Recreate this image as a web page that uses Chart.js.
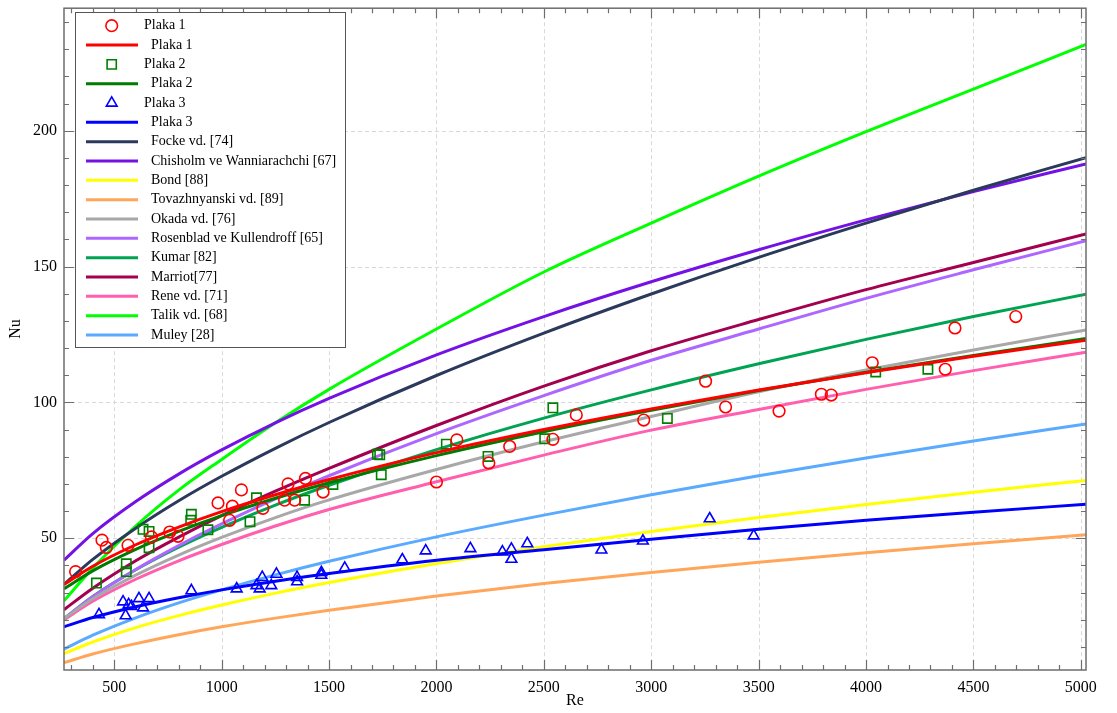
<!DOCTYPE html>
<html>
<head>
<meta charset="utf-8">
<script src="https://cdn.jsdelivr.net/npm/chart.js@4.4.1/dist/chart.umd.min.js"></script>
<style>
html,body{margin:0;padding:0;background:#fff;}
#wrap{width:1117px;height:713px;position:relative;}
</style>
</head>
<body>
<div id="wrap"><canvas id="c" width="1117" height="713"></canvas></div>
<script>
// ---- axis ticks ----
const xTickValues = [500, 1000, 1500, 2000, 2500, 3000, 3500, 4000, 4500, 5000];
const yTickValues = [50, 100, 150, 200];
const xMinorStep = 100;
const yMinorStep = 10;

// ---- fitted / correlation curves (Re sample positions) ----
const reCurve   = [266, 400, 600, 800, 1000, 1250, 1500, 2000, 2500, 3000, 3500, 4000, 4500, 5024];
const plaka1Fit = [33.0, 39.7, 47.6, 54.1, 59.8, 66.0, 71.6, 81.5, 90.0, 97.6, 104.6, 110.9, 117.0, 122.9];
const plaka2Fit = [31.4, 38.0, 45.9, 52.5, 58.3, 64.7, 70.4, 80.4, 89.2, 97.1, 104.4, 111.1, 117.3, 123.5];
const plaka3Fit = [17.4, 20.8, 24.8, 28.1, 31.0, 34.2, 37.0, 41.9, 45.8, 49.6, 53.3, 56.6, 59.6, 62.5];
const focke     = [33.0, 42.2, 53.7, 63.8, 72.8, 83.1, 92.6, 109.9, 125.5, 139.9, 153.4, 166.0, 178.1, 190.1];
const chisholm  = [41.9, 51.7, 63.5, 73.6, 82.5, 92.5, 101.5, 117.5, 131.6, 144.4, 156.2, 167.2, 177.6, 187.8];
const bond      = [7.5, 11.8, 17.1, 21.5, 25.4, 29.8, 33.7, 40.7, 46.9, 52.5, 57.6, 62.4, 66.9, 71.3];
const tovaz     = [4.2, 7.4, 11.2, 14.5, 17.4, 20.6, 23.5, 28.7, 33.3, 37.4, 41.2, 44.7, 48.0, 51.3];
const okada     = [20.4, 27.7, 36.4, 43.8, 50.3, 57.6, 64.1, 75.3, 85.5, 94.8, 103.9, 111.9, 119.3, 126.7];
const rosenblad = [20.4, 28.5, 38.5, 47.3, 55.3, 64.5, 73.0, 88.5, 102.5, 115.5, 127.0, 138.3, 148.8, 159.5];
const kumar     = [20.4, 28.6, 38.4, 46.7, 54.0, 62.2, 69.5, 82.6, 94.2, 104.6, 114.2, 123.2, 131.6, 139.8];
const marriot   = [23.7, 31.6, 41.7, 50.4, 58.3, 67.3, 75.7, 91.5, 106.0, 119.0, 130.5, 141.5, 151.5, 162.0];
const rene      = [20.0, 26.8, 34.9, 41.7, 47.7, 54.5, 60.6, 70.8, 80.6, 89.8, 97.4, 104.8, 111.7, 118.5];
const talik     = [27.0, 39.0, 54.5, 67.7, 79.0, 92.5, 104.8, 127.0, 148.0, 166.0, 183.3, 199.7, 215.3, 231.8];
const muley     = [9.2, 14.3, 20.7, 26.2, 31.0, 36.5, 41.5, 50.5, 58.5, 66.0, 73.0, 79.5, 85.8, 92.1];

// ---- measured points ----
const plaka1Re = [320, 443, 463, 564, 673, 758, 797, 983, 1037, 1050, 1092, 1192, 1293, 1309, 1340, 1390, 1472, 2000, 2095, 2244, 2341, 2542, 2651, 2965, 3253, 3346, 3595, 3792, 3838, 4029, 4369, 4414, 4697];
const plaka1Nu = [37.7, 49.3, 46.6, 47.4, 50.5, 52.3, 50.7, 63.0, 56.6, 61.8, 67.8, 61.0, 64.0, 70.0, 64.0, 72.0, 67.0, 70.7, 86.2, 77.7, 83.8, 86.4, 95.4, 93.5, 107.8, 98.3, 96.8, 103.0, 102.7, 114.6, 112.2, 127.4, 131.6];
const plaka2Re = [417, 556, 556, 634, 662, 662, 859, 856, 936, 1132, 1162, 1386, 1518, 1725, 1736, 1743, 2046, 2240, 2504, 2542, 3075, 4045, 4288];
const plaka2Nu = [33.5, 40.6, 37.7, 53.3, 52.5, 46.5, 58.8, 56.6, 53.1, 56.1, 64.9, 64.0, 69.8, 80.9, 80.7, 73.4, 84.6, 80.1, 86.6, 98.0, 94.1, 111.2, 112.2];
const plaka3Re = [429, 541, 553, 567, 580, 615, 634, 662, 859, 1070, 1162, 1177, 1189, 1231, 1255, 1351, 1351, 1464, 1464, 1573, 1841, 1950, 2158, 2307, 2349, 2349, 2423, 2768, 2961, 3272, 3477];
const plaka3Nu = [21.9, 26.6, 21.5, 25.6, 24.9, 27.8, 24.4, 27.8, 30.7, 31.4, 32.6, 31.4, 35.6, 32.6, 36.8, 35.6, 34.0, 37.4, 36.4, 39.0, 42.1, 45.4, 46.2, 45.0, 46.0, 42.3, 48.0, 45.7, 49.0, 57.2, 50.9];

const FONT = '"Liberation Serif", "Times New Roman", serif';
const pts = (xs, ys) => xs.map((v, i) => ({x: v, y: ys[i]}));

function markerSet(label, xs, ys, color, style, r) {
  return {label, data: pts(xs, ys), showLine: false, borderColor: color, backgroundColor: 'rgba(0,0,0,0)',
          pointStyle: style, pointRadius: r, pointHoverRadius: r, pointBorderWidth: 1.6, pointBorderColor: color,
          pointBackgroundColor: 'rgba(0,0,0,0)'};
}
function curveSet(label, ys, color) {
  return {label, data: pts(reCurve, ys), showLine: true, borderColor: color, backgroundColor: color,
          borderWidth: 3, pointRadius: 0, pointHoverRadius: 0, cubicInterpolationMode: 'monotone', fill: false};
}

const datasets = [
  markerSet('Plaka 1', plaka1Re, plaka1Nu, '#ff0000', 'circle', 5.8),
  curveSet(' Plaka 1', plaka1Fit, '#ff0000'),
  markerSet('Plaka 2', plaka2Re, plaka2Nu, '#008000', 'rect', 6.6),
  curveSet(' Plaka 2', plaka2Fit, '#007a00'),
  markerSet('Plaka 3', plaka3Re, plaka3Nu, '#0000ff', 'triangle', 6.2),
  curveSet(' Plaka 3', plaka3Fit, '#0000ff'),
  curveSet('Focke vd. [74]', focke, '#2b3a5c'),
  curveSet('Chisholm ve Wanniarachchi [67]', chisholm, '#7412e6'),
  curveSet('Bond [88]', bond, '#ffff00'),
  curveSet('Tovazhnyanski vd. [89]', tovaz, '#ffa65a'),
  curveSet('Okada vd. [76]', okada, '#a8a8a8'),
  curveSet('Rosenblad ve Kullendroff [65]', rosenblad, '#ad66ff'),
  curveSet('Kumar [82]', kumar, '#00a352'),
  curveSet('Marriot[77]', marriot, '#a3004f'),
  curveSet('Rene vd. [71]', rene, '#ff5fae'),
  curveSet('Talik vd. [68]', talik, '#00ff00'),
  curveSet('Muley [28]', muley, '#5aaaff')
];

function drawMarker(ctx, style, x, y, color) {
  ctx.save();
  ctx.strokeStyle = color; ctx.lineWidth = 1.6;
  ctx.beginPath();
  if (style === 'circle') ctx.arc(x, y, 5.8, 0, Math.PI * 2);
  else if (style === 'rect') ctx.rect(x - 4.6, y - 4.6, 9.2, 9.2);
  else { const r = 6.2; ctx.moveTo(x, y - r); ctx.lineTo(x + r * 0.866, y + r * 0.5); ctx.lineTo(x - r * 0.866, y + r * 0.5); ctx.closePath(); }
  ctx.stroke();
  ctx.restore();
}

const framePlugin = {
  id: 'framePlugin',
  beforeDatasetsDraw(chart) {
    const {ctx, chartArea: a, scales: {x, y}} = chart;
    ctx.save();
    ctx.strokeStyle = '#d9d9d9'; ctx.lineWidth = 1; ctx.setLineDash([4, 3]);
    xTickValues.forEach(v => { const p = Math.round(x.getPixelForValue(v)) + 0.5; ctx.beginPath(); ctx.moveTo(p, a.top); ctx.lineTo(p, a.bottom); ctx.stroke(); });
    yTickValues.forEach(v => { const p = Math.round(y.getPixelForValue(v)) + 0.5; ctx.beginPath(); ctx.moveTo(a.left, p); ctx.lineTo(a.right, p); ctx.stroke(); });
    ctx.restore();
  },
  afterDatasetsDraw(chart) {
    const {ctx, chartArea: a, scales: {x, y}} = chart;
    ctx.save();
    ctx.strokeStyle = '#6e6e6e'; ctx.lineWidth = 1.5;
    ctx.strokeRect(a.left, a.top, a.right - a.left, a.bottom - a.top);
    ctx.lineWidth = 1.2;
    for (let v = Math.ceil(x.min / xMinorStep) * xMinorStep; v <= x.max; v += xMinorStep) {
      const p = Math.round(x.getPixelForValue(v)) + 0.5;
      const len = (v % 500 === 0) ? 10 : 5;
      ctx.beginPath(); ctx.moveTo(p, a.bottom); ctx.lineTo(p, a.bottom - len);
      ctx.moveTo(p, a.top); ctx.lineTo(p, a.top + len); ctx.stroke();
    }
    for (let v = Math.ceil(y.min / yMinorStep) * yMinorStep; v <= y.max; v += yMinorStep) {
      const p = Math.round(y.getPixelForValue(v)) + 0.5;
      const len = (v % 50 === 0) ? 10 : 5;
      ctx.beginPath(); ctx.moveTo(a.left, p); ctx.lineTo(a.left + len, p);
      ctx.moveTo(a.right, p); ctx.lineTo(a.right - len, p); ctx.stroke();
    }
    // y-axis title
    ctx.fillStyle = '#000'; ctx.font = '16px ' + FONT;
    ctx.textAlign = 'center'; ctx.textBaseline = 'middle';
    ctx.translate(16, 329); ctx.rotate(-Math.PI / 2);
    ctx.fillText('Nu', 0, 0);
    ctx.restore();
  },
  afterDraw(chart) {
    const ctx = chart.ctx;
    const L = {x: 75.5, y: 12.5, w: 270, h: 335, row: 19.33, first: 25.7};
    ctx.save();
    ctx.fillStyle = '#ffffff'; ctx.fillRect(L.x, L.y, L.w, L.h);
    ctx.strokeStyle = '#555555'; ctx.lineWidth = 1; ctx.strokeRect(L.x, L.y, L.w, L.h);
    ctx.font = '14px ' + FONT; ctx.textBaseline = 'middle'; ctx.fillStyle = '#000';
    chart.data.datasets.forEach((ds, i) => {
      const cy = L.first + i * L.row;
      if (ds.showLine) {
        ctx.strokeStyle = ds.borderColor; ctx.lineWidth = 3;
        ctx.beginPath(); ctx.moveTo(86, cy); ctx.lineTo(138, cy); ctx.stroke();
        ctx.fillText(ds.label.trim(), 151, cy);
      } else {
        drawMarker(ctx, ds.pointStyle, 111.7, cy, ds.borderColor);
        ctx.fillText(ds.label, 144, cy);
      }
    });
    ctx.restore();
  }
};

new Chart(document.getElementById('c'), {
  type: 'scatter',
  data: {datasets},
  options: {
    responsive: false,
    animation: false,
    devicePixelRatio: 1,
    layout: {padding: {left: 0, right: 31, top: 4, bottom: 0}},
    plugins: {legend: {display: false}, tooltip: {enabled: false}},
    elements: {line: {tension: 0}},
    scales: {
      x: {
        type: 'linear', min: 266, max: 5024,
        afterBuildTicks: s => { s.ticks = xTickValues.map(v => ({value: v})); },
        afterFit: s => { s.height = 43; s.paddingLeft = 0; s.paddingRight = 0; },
        grid: {display: false, drawTicks: false},
        border: {display: false},
        ticks: {color: '#000', font: {family: FONT, size: 16}, padding: 8, maxRotation: 0, autoSkip: false,
                callback: v => String(v)},
        title: {display: true, text: 'Re', color: '#000', font: {family: FONT, size: 16}, padding: {top: 0, bottom: 3}}
      },
      y: {
        type: 'linear', min: 1.5, max: 245.1,
        afterBuildTicks: s => { s.ticks = yTickValues.map(v => ({value: v})); },
        afterFit: s => { s.width = 64; s.paddingTop = 0; s.paddingBottom = 0; },
        grid: {display: false, drawTicks: false},
        border: {display: false},
        ticks: {color: '#000', font: {family: FONT, size: 16}, padding: 7, autoSkip: false,
                callback: v => String(v)},
        title: {display: false, text: 'Nu'}
      }
    }
  },
  plugins: [framePlugin]
});
</script>
</body>
</html>
